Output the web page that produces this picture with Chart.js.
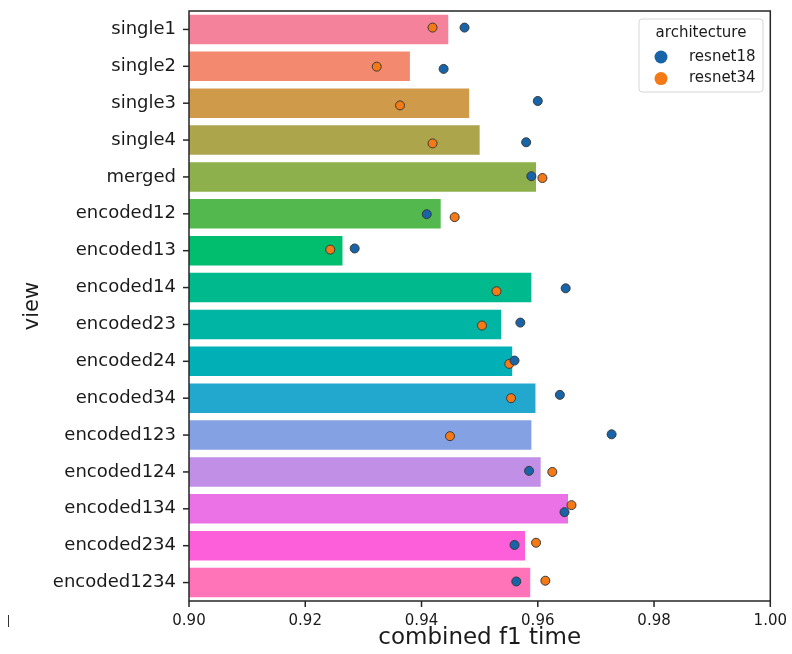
<!DOCTYPE html>
<html>
<head>
<meta charset="utf-8">
<script src="https://cdn.jsdelivr.net/npm/chart.js@4"></script>
<style>
  body { margin: 0; background: #fff; }
  #wrap { width: 792px; height: 654px; }
</style>
</head>
<body>
<div id="wrap"><canvas id="f1Chart" width="792" height="654"></canvas></div>
<script>
// categories and values
const views = ["single1", "single2", "single3", "single4", "merged",
  "encoded12", "encoded13", "encoded14", "encoded23", "encoded24", "encoded34",
  "encoded123", "encoded124", "encoded134", "encoded234", "encoded1234"];

const meanF1 = [0.9446, 0.9380, 0.9482, 0.9500, 0.9597, 0.9433, 0.9264, 0.9589,
  0.9537, 0.9556, 0.9596, 0.9589, 0.9605, 0.9652, 0.9578, 0.9587];

const resnet18 = [0.9474, 0.9438, 0.9600, 0.9580, 0.9589, 0.9409, 0.9285, 0.9648,
  0.9570, 0.9560, 0.9638, 0.9727, 0.9585, 0.9646, 0.9560, 0.9563];
const resnet34 = [0.9419, 0.9323, 0.9363, 0.9419, 0.9608, 0.9457, 0.9243, 0.9529,
  0.9504, 0.9551, 0.9554, 0.9449, 0.9625, 0.9658, 0.9597, 0.9613];

// strip plot jitter (in category units)
const jitter18 = [-0.05, 0.07, -0.06, 0.06, -0.02, 0.01, -0.06, 0.02, -0.05, -0.02, -0.09, -0.02, -0.03, 0.09, -0.02, -0.03];
const jitter34 = [-0.05, 0.01, 0.06, 0.09, 0.03, 0.09, -0.03, 0.10, 0.03, 0.07, 0.00, 0.03, 0.00, -0.10, -0.08, -0.05];

const archNames = ["resnet18", "resnet34"];
const xTicks = [0.90, 0.92, 0.94, 0.96, 0.98, 1.00];

const barColors = ["#f4829b", "#f38a6f", "#cf9a4a", "#aca54b", "#8daf4c", "#53b94f",
  "#00be6d", "#00b98d", "#00b5a3", "#00b0b7", "#22a8cf", "#84a2e3",
  "#c18fe6", "#ea71e6", "#fd5ed9", "#ff74b9"];
const archColors = ["#1765a8", "#f57a15"];

const FONT = "'DejaVu Sans', sans-serif";
const INK = "#262626";

// spines, tick marks, legend inside the axes, stray mark at bottom left
const extras = {
  id: "extras",
  afterDraw(chart) {
    const { ctx, chartArea: a, scales } = chart;
    ctx.save();
    ctx.strokeStyle = INK;
    ctx.lineWidth = 1.5;
    ctx.strokeRect(a.left, a.top, a.right - a.left, a.bottom - a.top);

    // tick marks (matplotlib style, outside)
    ctx.fillStyle = INK;
    xTicks.forEach(v => {
      const px = scales.x.getPixelForValue(v);
      ctx.fillRect(px - 0.75, a.bottom, 1.5, 6);
    });
    views.forEach((v, i) => {
      const py = scales.y.getPixelForValue(i);
      ctx.fillRect(a.left - 6, py - 0.75, 6, 1.5);
    });

    // legend box
    const bx = 639, by = 19, bw = 124, bh = 73;
    ctx.beginPath();
    ctx.roundRect(bx, by, bw, bh, 3);
    ctx.fillStyle = "rgba(255,255,255,0.8)";
    ctx.fill();
    ctx.strokeStyle = "#d6d6d6";
    ctx.lineWidth = 1;
    ctx.stroke();

    ctx.fillStyle = "#1a1a1a";
    ctx.font = "15px " + FONT;
    ctx.textAlign = "center";
    ctx.textBaseline = "middle";
    ctx.fillText("architecture", 701, 33);
    ctx.textAlign = "left";
    archNames.forEach((name, i) => {
      const y = 57 + i * 21.6;
      ctx.beginPath();
      ctx.arc(661, y, 6.5, 0, Math.PI * 2);
      ctx.fillStyle = archColors[i];
      ctx.fill();
      ctx.fillStyle = "#1a1a1a";
      ctx.fillText(name, 689, y);
    });

    ctx.fillStyle = "#333";
    ctx.fillRect(8, 615, 1, 12);
    ctx.restore();
  }
};

const ctx = document.getElementById("f1Chart").getContext("2d");

new Chart(ctx, {
  type: "bar",
  data: {
    labels: views,
    datasets: [
      {
        type: "scatter",
        label: archNames[0],
        data: resnet18.map((v, i) => ({ x: v, y: i + jitter18[i] })),
        xAxisID: "x",
        yAxisID: "y2",
        backgroundColor: archColors[0],
        borderColor: "#3a3a3a",
        borderWidth: 1,
        pointRadius: 4.5,
        order: 1
      },
      {
        type: "scatter",
        label: archNames[1],
        data: resnet34.map((v, i) => ({ x: v, y: i + jitter34[i] })),
        xAxisID: "x",
        yAxisID: "y2",
        backgroundColor: archColors[1],
        borderColor: "#3a3a3a",
        borderWidth: 1,
        pointRadius: 4.5,
        order: 2
      },
      {
        type: "bar",
        label: "combined f1 time",
        data: meanF1,
        indexAxis: "y",
        xAxisID: "x",
        yAxisID: "y",
        backgroundColor: barColors,
        borderWidth: 0,
        categoryPercentage: 0.8,
        barPercentage: 1.0,
        order: 3
      }
    ]
  },
  options: {
    responsive: false,
    animation: false,
    layout: { padding: { top: 11, right: 21, left: 0, bottom: 0 } },
    plugins: {
      legend: { display: false },
      tooltip: { enabled: false }
    },
    scales: {
      x: {
        type: "linear",
        position: "bottom",
        min: 0.90,
        max: 1.00,
        offset: false,
        afterBuildTicks: (scale) => { scale.ticks = xTicks.map(v => ({ value: v })); },
        afterFit: (scale) => { scale.height = 53; },
        grid: { display: false, drawTicks: true, tickLength: 6 },
        border: { display: false },
        ticks: {
          font: { family: FONT, size: 15 },
          color: "#1a1a1a",
          padding: 5,
          callback: (v) => Number(v).toFixed(2)
        },
        title: {
          display: true,
          text: "combined f1 time",
          font: { family: FONT, size: 23 },
          color: "#1a1a1a",
          padding: { top: 0, bottom: 2 }
        }
      },
      y: {
        type: "category",
        position: "left",
        offset: true,
        afterFit: (scale) => {
          scale.width = 189;
          scale.paddingTop = 0;
          scale.paddingBottom = 0;
        },
        grid: { display: false, drawTicks: true, tickLength: 6 },
        border: { display: false },
        ticks: {
          autoSkip: false,
          font: { family: FONT, size: 18 },
          color: "#1a1a1a",
          padding: 7
        },
        title: {
          display: true,
          text: "view",
          font: { family: FONT, size: 21 },
          color: "#1a1a1a",
          padding: { top: 20, bottom: 0 }
        }
      },
      y2: {
        type: "linear",
        display: false,
        min: -0.5,
        max: views.length - 0.5,
        reverse: true
      }
    }
  },
  plugins: [extras]
});
</script>
</body>
</html>
